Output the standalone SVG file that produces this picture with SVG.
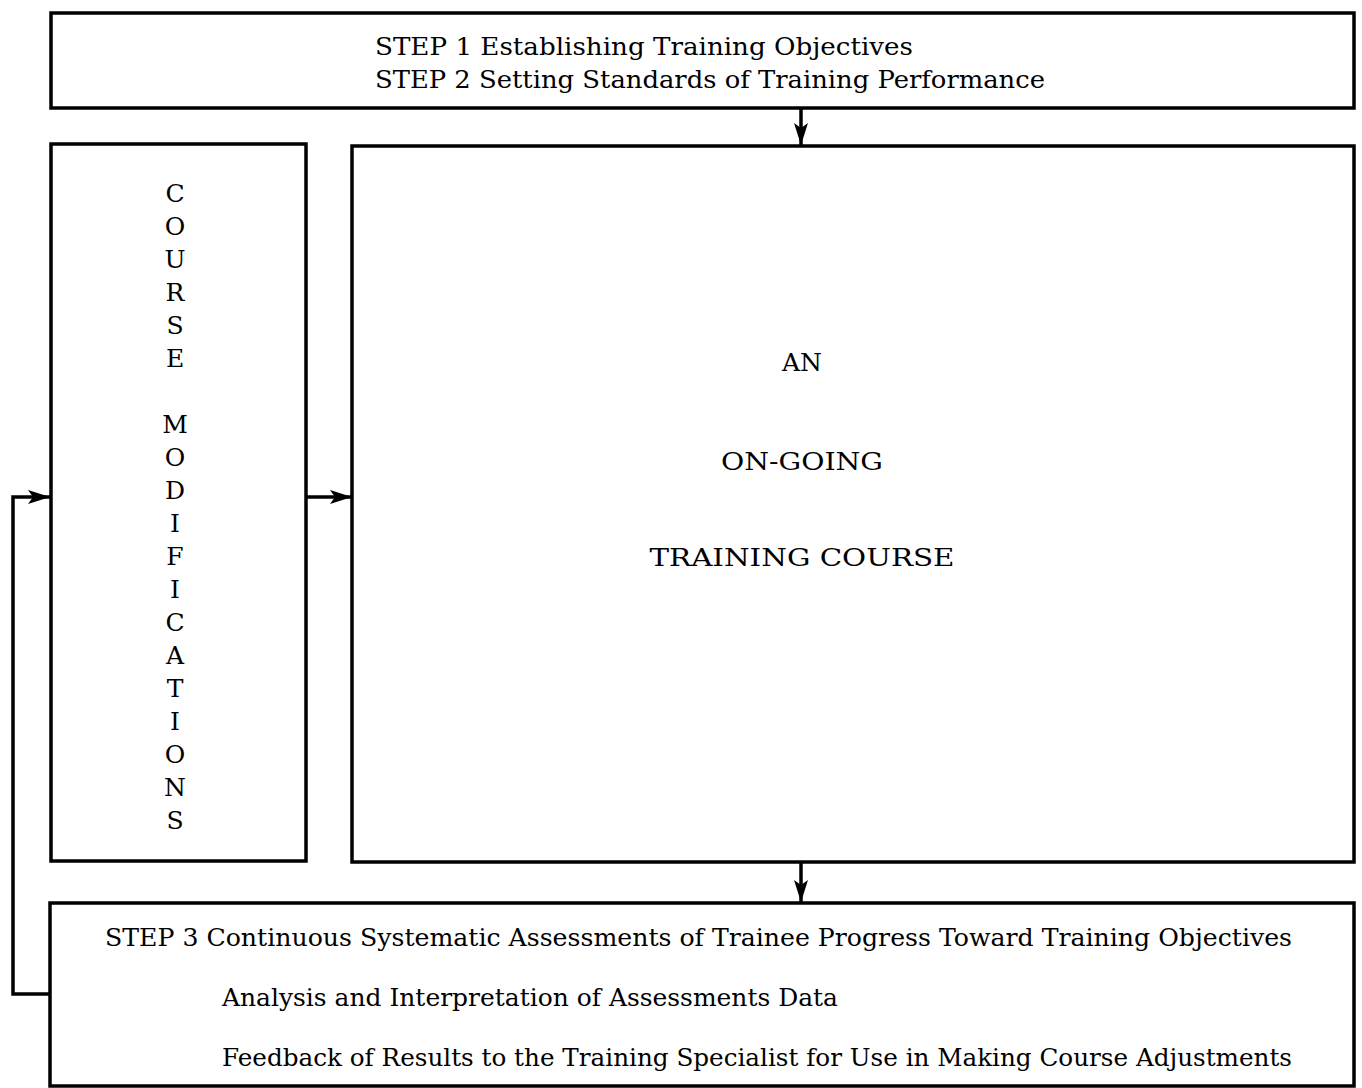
<svg xmlns="http://www.w3.org/2000/svg" width="1362" height="1088" viewBox="0 0 1362 1088">
  <style>
    .box { fill: #fff; stroke: #000; stroke-width: 3.5; }
    .wire { fill: none; stroke: #000; stroke-width: 3.5; }
    text { font-family: "DejaVu Serif", "Liberation Serif", serif; font-size: 25px; fill: #000; }
    .mid { text-anchor: middle; }
  </style>
  <defs>
    <marker id="head" viewBox="0 0 22 14" refX="22" refY="7" markerWidth="22" markerHeight="14" markerUnits="userSpaceOnUse" orient="auto">
      <path d="M0,0 L22,7 L0,14 L5,7 Z" fill="#000"/>
    </marker>
  </defs>
  <rect width="1362" height="1088" fill="#fff"/>

  <g id="connectors">
    <line class="wire" x1="801" y1="109" x2="801" y2="145" marker-end="url(#head)"/>
    <line class="wire" x1="801" y1="862" x2="801" y2="902" marker-end="url(#head)"/>
    <line class="wire" x1="306" y1="497" x2="352" y2="497" marker-end="url(#head)"/>
    <polyline class="wire" points="50,994 13,994 13,497 50,497" marker-end="url(#head)"/>
  </g>

  <g id="objectives">
    <rect class="box" x="51" y="13" width="1303" height="95"/>
    <text x="375" y="55" textLength="538" lengthAdjust="spacingAndGlyphs">STEP 1 Establishing Training Objectives</text>
    <text x="375" y="88" textLength="670" lengthAdjust="spacingAndGlyphs">STEP 2 Setting Standards of Training Performance</text>
  </g>

  <g id="modifications">
    <rect class="box" x="51" y="144" width="255" height="717"/>
    <g class="mid">
      <text x="175" y="202">C</text>
      <text x="175" y="235">O</text>
      <text x="175" y="268">U</text>
      <text x="175" y="301">R</text>
      <text x="175" y="334">S</text>
      <text x="175" y="367">E</text>
      <text x="175" y="433">M</text>
      <text x="175" y="466">O</text>
      <text x="175" y="499">D</text>
      <text x="175" y="532">I</text>
      <text x="175" y="565">F</text>
      <text x="175" y="598">I</text>
      <text x="175" y="631">C</text>
      <text x="175" y="664">A</text>
      <text x="175" y="697">T</text>
      <text x="175" y="730">I</text>
      <text x="175" y="763">O</text>
      <text x="175" y="796">N</text>
      <text x="175" y="829">S</text>
    </g>
  </g>

  <g id="course">
    <rect class="box" x="352" y="146" width="1002" height="716"/>
    <text class="mid" x="802" y="371">AN</text>
    <text class="mid" x="802" y="470" textLength="162" lengthAdjust="spacingAndGlyphs">ON-GOING</text>
    <text class="mid" x="802" y="566" textLength="305" lengthAdjust="spacingAndGlyphs">TRAINING COURSE</text>
  </g>

  <g id="assessment">
    <rect class="box" x="50" y="903" width="1304" height="183"/>
    <text x="105" y="946" textLength="1187" lengthAdjust="spacingAndGlyphs">STEP 3 Continuous Systematic Assessments of Trainee Progress Toward Training Objectives</text>
    <text x="222" y="1006" textLength="616" lengthAdjust="spacingAndGlyphs">Analysis and Interpretation of Assessments Data</text>
    <text x="222" y="1066" textLength="1070" lengthAdjust="spacingAndGlyphs">Feedback of Results to the Training Specialist for Use in Making Course Adjustments</text>
  </g>
</svg>
